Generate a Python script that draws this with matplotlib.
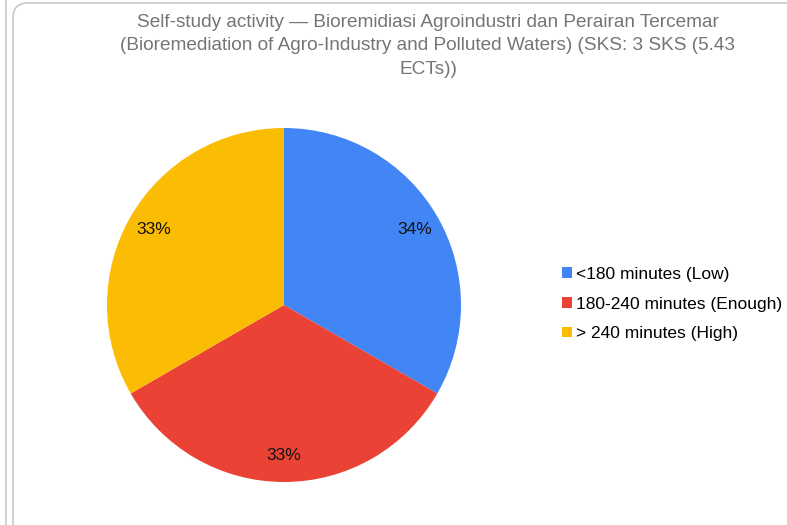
import matplotlib
matplotlib.use("Agg")
import matplotlib.pyplot as plt
from matplotlib.patches import Patch, FancyBboxPatch
import numpy as np

plt.rcParams['font.family'] = ['Liberation Sans', 'DejaVu Sans']

title = ("Self-study activity \u2014 Bioremidiasi Agroindustri dan Perairan Tercemar\n"
         "(Bioremediation of Agro-Industry and Polluted Waters) (SKS: 3 SKS (5.43\n"
         "ECTs))")
categories = ["<180 minutes (Low)", "180-240 minutes (Enough)", "> 240 minutes (High)"]
values = [1, 1, 1]
colors = ["#4285F4", "#EA4335", "#FBBC04"]

W, H = 787, 525
fig = plt.figure(figsize=(W / 100, H / 100), dpi=100)

# background card borders
bg = fig.add_axes([0, 0, 1, 1])
bg.set_xlim(0, W)
bg.set_ylim(H, 0)
bg.axis('off')
card = FancyBboxPatch((13, 3), 800, 540, boxstyle="round,pad=0,rounding_size=15",
                      fc='white', ec='#c8c8c8', lw=1.2)
bg.add_patch(card)
prev = FancyBboxPatch((-600, -30), 606, 585, boxstyle="round,pad=0,rounding_size=15",
                      fc='none', ec='#c8c8c8', lw=1.2)
bg.add_patch(prev)

# percentage labels with largest-remainder rounding
tot = sum(values)
raw = [v / tot * 100 for v in values]
fl = [int(np.floor(r)) for r in raw]
rem = 100 - sum(fl)
order = sorted(range(len(raw)), key=lambda i: -(raw[i] - fl[i]))
for i in order[:rem]:
    fl[i] += 1
pct_labels = [f"{p}%" for p in fl]

cx, cy, r = 284, 305, 177
ax = fig.add_axes([(cx - r) / W, (H - cy - r) / H, 2 * r / W, 2 * r / H])
wedges, _ = ax.pie(values, colors=colors, startangle=90, counterclock=False,
                   radius=1.0, wedgeprops=dict(linewidth=0))
theta = 90.0
for v, lab in zip(values, pct_labels):
    ang = theta - v / tot * 360 / 2
    theta -= v / tot * 360
    d = 0.85
    ax.text(d * np.cos(np.radians(ang)), d * np.sin(np.radians(ang)), lab,
            ha='center', va='center', fontsize=12.5, color='#111111')
ax.set_xlim(-1, 1)
ax.set_ylim(-1, 1)
ax.set_aspect('equal')
ax.axis('off')

fig.text(428 / W, 1 - 14 / H, title, ha='center', va='top', fontsize=13.7,
         color='#757575', linespacing=1.5)

handles = [Patch(facecolor=c, edgecolor='none') for c in colors]
fig.legend(handles, categories, loc='center left',
           bbox_to_anchor=(562 / W, 1 - 304 / H), frameon=False,
           fontsize=12.5, handlelength=0.55, handleheight=0.55,
           handletextpad=0.25, labelspacing=0.85, borderpad=0, borderaxespad=0)

fig.savefig("out.png", dpi=100)
